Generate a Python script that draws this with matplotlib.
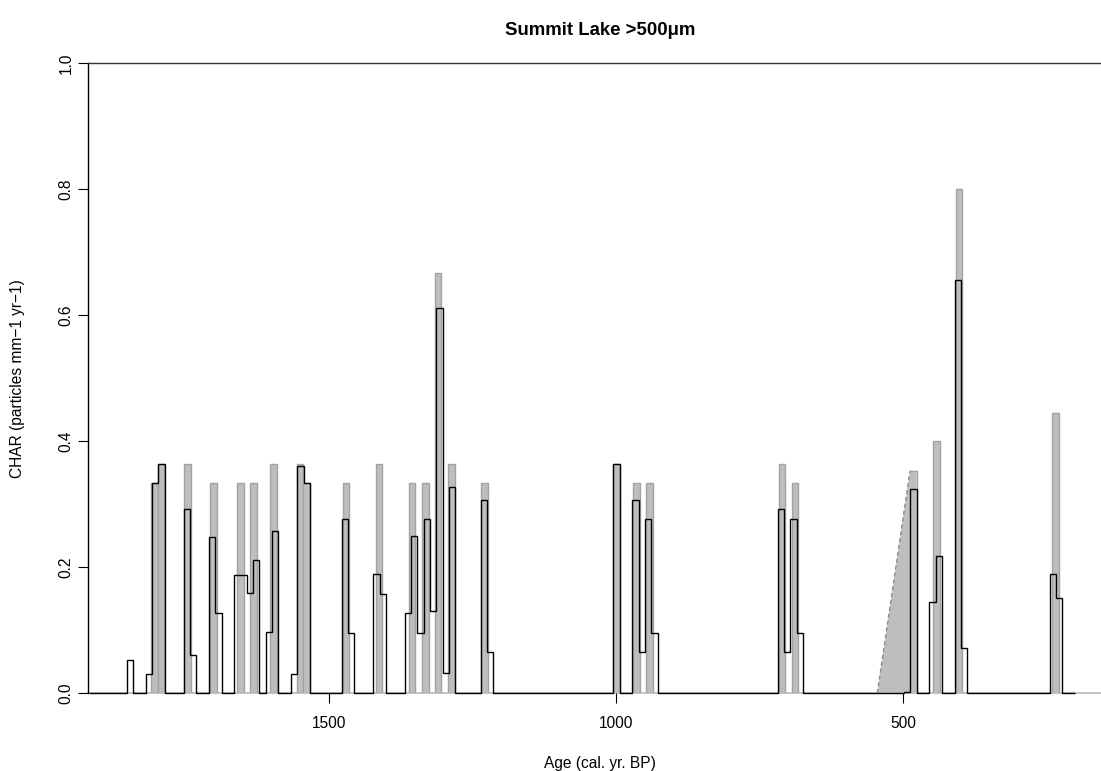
import matplotlib
matplotlib.use("Agg")
import matplotlib.pyplot as plt
import numpy as np

plt.rcParams['font.family'] = ['Liberation Sans', 'DejaVu Sans']

# ---------------- data ----------------
title = "Summit Lake >500\u03bcm"
x_label = "Age (cal. yr. BP)"
y_label = "CHAR (particles mm\u22121 yr\u22121)"
x_ticks = [1500, 1000, 500]
y_ticks = [0.0, 0.2, 0.4, 0.6, 0.8, 1.0]

# interpolated CHAR (black step line), 11-yr bins, oldest first
char_age_start = 1917.5
char_interval = 11.0
char_values = [
    0, 0, 0, 0, 0, 0,
    0.053, 0, 0, 0.031, 0.333, 0.364, 0, 0, 0,
    0.292, 0.061, 0, 0, 0.248, 0.127, 0, 0,
    0.188, 0.188, 0.159, 0.212, 0, 0.098, 0.258, 0, 0,
    0.030, 0.361, 0.333, 0, 0, 0, 0, 0,
    0.277, 0.096, 0, 0, 0, 0.190, 0.158, 0, 0, 0,
    0.128, 0.249, 0.096, 0.277, 0.130, 0.612, 0.032, 0.328, 0, 0, 0, 0,
    0.306, 0.065,
    0, 0, 0, 0, 0, 0, 0, 0, 0, 0, 0, 0, 0, 0, 0, 0, 0, 0, 0,
    0.364, 0, 0, 0.306, 0.065, 0.277, 0.096,
    0, 0, 0, 0, 0, 0, 0, 0, 0, 0, 0, 0, 0, 0, 0, 0, 0, 0, 0,
    0.293, 0.066, 0.277, 0.096,
    0, 0, 0, 0, 0, 0, 0, 0, 0, 0, 0, 0, 0, 0, 0, 0,
    0.002, 0.324, 0, 0, 0.145, 0.218, 0, 0, 0.655, 0.072,
    0, 0, 0, 0, 0, 0, 0, 0, 0, 0, 0, 0, 0,
    0.190, 0.151, 0, 0,
]

# raw peak samples (grey bars)
peak_age = [1803.4, 1791.9, 1745.5, 1700.2, 1653.8, 1631.1, 1596.3,
            1549.9, 1538.4, 1469.6, 1412.5, 1354.8, 1331.5, 1309.5,
            1285.8, 1228.9, 998.9, 964.7, 942.0, 711.1, 688.5,
            482.5, 442.0, 403.1, 235.5]
peak_char = [0.333, 0.364, 0.364, 0.333, 0.333, 0.333, 0.364,
             0.364, 0.333, 0.333, 0.364, 0.333, 0.333, 0.667,
             0.364, 0.333, 0.364, 0.333, 0.333, 0.364, 0.333,
             0.353, 0.400, 0.800, 0.444]
peak_width = 11.5
# one grey sample rises from an earlier zero point (gap in record)
ramp_peak_index = 21
ramp_base_age = 545.3

# ---------------- figure ----------------
W, H = 1101, 771
fig = plt.figure(figsize=(W / 100, H / 100), dpi=100)
ax_left, ax_right = 88, 1112
ax_top, ax_bottom = 63, 693.3
ax = fig.add_axes([ax_left / W, 1 - ax_bottom / H,
                   (ax_right - ax_left) / W, (ax_bottom - ax_top) / H])

px_per_yr = 0.5746
age_at_1500_px = 328.7
xl = 1500 + (age_at_1500_px - ax_left) / px_per_yr
xr = 1500 - (ax_right - age_at_1500_px) / px_per_yr
ax.set_xlim(xl, xr)
ax.set_ylim(0, 1.0)

grey = '#bebebe'
grey_edge = '#a2a2a2'

# grey baseline
ax.plot([xl, xr], [0, 0], color=grey, lw=1.3, zorder=1, clip_on=False)

# grey peak bars
for i, (a, h) in enumerate(zip(peak_age, peak_char)):
    left = a + peak_width / 2
    right = a - peak_width / 2
    if i == ramp_peak_index:
        xs = [ramp_base_age, left, right, right]
        ys = [0, h, h, 0]
        ax.fill(xs, ys, facecolor=grey, edgecolor='none', zorder=2)
        ax.plot([ramp_base_age, left], [0, h], color='#8c8c8c', lw=1.0,
                linestyle=(0, (3, 2)), zorder=2)
        ax.plot([left, right, right], [h, h, 0], color=grey_edge, lw=1.0,
                zorder=2)
    else:
        xs = [left, left, right, right]
        ys = [0, h, h, 0]
        ax.fill(xs, ys, facecolor=grey, edgecolor=grey_edge, lw=1.0,
                zorder=2)

# black step line
edges = char_age_start - char_interval * np.arange(len(char_values) + 1)
ax.stairs(char_values, edges, baseline=None, color='black', lw=1.0,
          zorder=3, clip_on=False)

# axes styling
for s in ['right', 'bottom']:
    ax.spines[s].set_visible(False)
ax.spines['left'].set_color('black')
ax.spines['left'].set_linewidth(1.0)
ax.spines['top'].set_color('#333333')
ax.spines['top'].set_linewidth(1.0)

ax.set_xticks(x_ticks)
ax.set_xticklabels([str(t) for t in x_ticks])
ax.set_yticks(y_ticks)
ax.set_yticklabels([f"{t:.1f}" for t in y_ticks], rotation=90, va='center')
ax.tick_params(axis='both', direction='out', length=7, width=0.8,
               labelsize=11.2, colors='black')
ax.tick_params(axis='x', pad=9.5)
ax.tick_params(axis='y', pad=3.5)

ax.set_title(title, fontsize=13.4, fontweight='bold', pad=20)
ax.set_xlabel(x_label, fontsize=11.2, labelpad=18)
fig.text(18 / W, 1 - ((ax_top + ax_bottom) / 2) / H, y_label,
         rotation=90, ha='center', va='center', fontsize=11.2)

fig.savefig("out.png", dpi=100)
